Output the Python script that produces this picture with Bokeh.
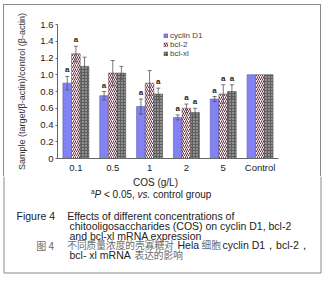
from bokeh.plotting import figure
from bokeh.models import (FactorRange, Range1d, ColumnDataSource, Whisker, TeeHead,
                          Legend, LegendItem, CustomJSTickFormatter, InlineStyleSheet)
from bokeh.transform import dodge
from bokeh.core.properties import value
from bokeh.embed import file_html
from bokeh.resources import INLINE

categories = ["0.1", "0.5", "1", "2", "5", "Control"]
cyclin = [0.90, 0.75, 0.62, 0.49, 0.71, 1.00]
cyclin_err = [0.08, 0.05, 0.09, 0.03, 0.03, 0.0]
bcl2 = [1.25, 1.02, 0.90, 0.60, 0.77, 1.00]
bcl2_err = [0.09, 0.15, 0.15, 0.05, 0.11, 0.0]
bclxl = [1.10, 1.02, 0.77, 0.55, 0.80, 1.00]
bclxl_err = [0.11, 0.08, 0.07, 0.05, 0.08, 0.0]
cyclin_sig = [1, 1, 1, 1, 1, 0]
bcl2_sig = [1, 0, 0, 1, 1, 0]
bclxl_sig = [0, 0, 1, 1, 1, 0]
series_names = ["cyclin D1", "bcl-2", "bcl-xl"]
y_ticks = [0, 0.2, 0.4, 0.6, 0.8, 1.0, 1.2, 1.4, 1.6]

FONT = "Liberation Sans"
CJK = "Noto Sans CJK SC"

# ---------------- chart ----------------
border_top_css = InlineStyleSheet(css=""":host::after { content: ""; position: absolute; left: 3px; top: 4px;
 width: 318px; height: 172px; box-sizing: border-box; border: 1px solid #8a8a8a; border-bottom: none;
 pointer-events: none; z-index: 10; }""")
p = figure(width=329, height=176, x_range=FactorRange(factors=categories, range_padding=0),
           y_range=Range1d(0, 1.6), output_backend="svg", toolbar_location=None, title=None,
           min_border_left=57, min_border_right=51, min_border_top=24, min_border_bottom=18,
           stylesheets=[border_top_css])
p.outline_line_color = None
p.xgrid.grid_line_color = None
p.ygrid.grid_line_color = None
p.background_fill_color = "white"
p.border_fill_color = "white"

width = 0.235
offsets = [-width, 0.0, width]
styles = [
    dict(fill_color="#8282f2", line_color="#5a5ab4", line_width=0.6),
    dict(fill_color="white", line_color="#6b3a4a", line_width=0.5,
         hatch_pattern="/", hatch_color="#6b2a3a", hatch_scale=4.0, hatch_weight=1.0),
    dict(fill_color="#5e5e5e", line_color="#404040", line_width=0.5,
         hatch_pattern=".", hatch_color="#dcdcdc", hatch_scale=3.0, hatch_weight=1.0),
]
vals = [cyclin, bcl2, bclxl]
errs = [cyclin_err, bcl2_err, bclxl_err]
sigs = [cyclin_sig, bcl2_sig, bclxl_sig]

renderers = []
for k in range(3):
    src = ColumnDataSource(dict(cat=categories, top=vals[k]))
    r = p.vbar(x=dodge("cat", offsets[k], range=p.x_range), top="top", width=width,
               source=src, **styles[k])
    renderers.append(r)

    ecat = [c for c, e in zip(categories, errs[k]) if e > 0]
    ev = [v for v, e in zip(vals[k], errs[k]) if e > 0]
    ee = [e for e in errs[k] if e > 0]
    esrc = ColumnDataSource(dict(cat=ecat, upper=[v + e for v, e in zip(ev, ee)],
                                 lower=[v - e for v, e in zip(ev, ee)]))
    w = Whisker(base=dodge("cat", offsets[k], range=p.x_range), upper="upper", lower="lower",
                source=esrc, line_color="#555555", line_width=0.8, level="annotation",
                upper_head=TeeHead(size=4, line_color="#555555", line_width=0.8),
                lower_head=TeeHead(size=4, line_color="#555555", line_width=0.8))
    p.add_layout(w)

    scat = [c for c, s in zip(categories, sigs[k]) if s]
    sy = [v + e for v, e, s in zip(vals[k], errs[k], sigs[k]) if s]
    ssrc = ColumnDataSource(dict(cat=scat, y=sy, t=["a"] * len(scat)))
    p.text(x=dodge("cat", offsets[k], range=p.x_range), y="y", text="t", source=ssrc,
           text_font=value(FONT), text_font_size="8px", text_font_style="bold",
           text_align="center", text_baseline="bottom", y_offset=-2, text_color="#222222")

legend = Legend(items=[LegendItem(label=n, renderers=[r]) for n, r in zip(series_names, renderers)],
                location=(106, 100), border_line_color=None, background_fill_alpha=0,
                label_text_font=FONT, label_text_font_size="8px",
                glyph_width=5, glyph_height=5, label_height=6, spacing=0, padding=0, margin=0,
                label_standoff=2)
p.add_layout(legend)

p.yaxis.ticker = y_ticks
p.yaxis.formatter = CustomJSTickFormatter(code="return tick == 0 ? '0' : tick.toFixed(1);")
p.yaxis.axis_label = "Sample (target/β-actin)/control (β-actin)"
p.yaxis.axis_label_text_font = FONT
p.yaxis.axis_label_text_font_size = "9px"
p.yaxis.axis_label_text_font_style = "normal"
p.yaxis.axis_label_text_color = "#333333"
p.yaxis.axis_label_standoff = 10
for ax in (p.xaxis[0], p.yaxis[0]):
    ax.axis_line_color = "#666666"
    ax.major_tick_line_color = "#666666"
    ax.minor_tick_line_color = None
    ax.major_label_text_font = FONT
    ax.major_label_text_font_size = "9.5px"
    ax.major_label_text_color = "#222222"
p.yaxis.major_tick_out = 2
p.yaxis.major_tick_in = 0
p.yaxis.major_label_standoff = 2
p.xaxis.major_tick_line_color = None
p.xaxis.major_tick_out = 0
p.xaxis.major_tick_in = 0
p.xaxis.major_label_standoff = 3

# ---------------- caption (coordinates = page pixels) ----------------
c = figure(width=329, height=106, x_range=Range1d(0, 329), y_range=Range1d(282, 176),
           output_backend="svg", toolbar_location=None, title=None,
           x_axis_location=None, y_axis_location=None,
           min_border_left=0, min_border_right=0, min_border_top=0, min_border_bottom=0)
c.outline_line_color = None
c.xgrid.grid_line_color = None
c.ygrid.grid_line_color = None
c.background_fill_color = "white"
c.border_fill_color = "white"


def t(text, X, Y, size="10.5px", color="#222222", font=FONT, style="normal", align="left"):
    c.text(x=[X], y=[Y], text=[text], text_font=value(font), text_font_size=size,
           text_color=color, text_font_style=style, text_align=align, text_baseline="middle")


t("COS (g/L)", 155, 182, size="10px", align="center")
t("a", 90.5, 191, size="6.5px")
t("P", 94, 194, size="10px", style="italic")
t("< 0.05,", 103.5, 194, size="10px")
t("vs.", 137, 194, size="10px", style="italic")
t("control group", 152.5, 194, size="10px")

t("Figure 4", 16, 215.5)
t("Effects of different concentrations of", 66.7, 215.5)
t("chitooligosaccharides (COS) on cyclin D1, bcl-2", 69, 225)
t("and bcl-xl mRNA expression", 69, 235)
GRAY = "#6a6a6a"
t("图 4", 35.7, 244.5, size="10px", color=GRAY, font=CJK)
t("不同质量浓度的壳寡糖对", 66.7, 244.5, size="9.7px", color=GRAY, font=CJK)
t("Hela", 177, 244.5)
t("细胞", 201, 244.5, size="9.7px", color=GRAY, font=CJK)
t("cyclin D1，bcl-2，", 222, 244.5)
t("bcl- xl mRNA", 69, 254)
t("表达的影响", 134, 254, size="9.7px", color=GRAY, font=CJK)

# lower part of the panel border
c.segment(x0=[3.5, 320.5, 3.5], y0=[176, 176, 272.5], x1=[3.5, 320.5, 320.5], y1=[272.5, 272.5, 272.5],
          line_color="#8a8a8a", line_width=1)

open("out.html", "w").write(file_html([p, c], INLINE))
